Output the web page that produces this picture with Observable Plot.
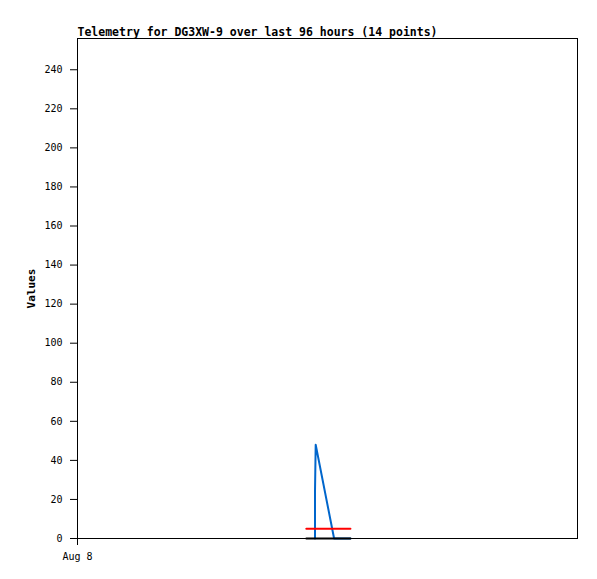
<!DOCTYPE html>
<html>
<head>
<meta charset="utf-8">
<script src="https://cdn.jsdelivr.net/npm/d3@7"></script>
<script src="https://cdn.jsdelivr.net/npm/@observablehq/plot@0.6"></script>
<style>
  html, body { margin: 0; padding: 0; background: #fff; }
</style>
</head>
<body>
<div id="chart"></div>
<script>
const titleText = "Telemetry for DG3XW-9 over last 96 hours (14 points)";
const yLabel = "Values";

// Blue series (time, value)
const blueTimes = ["2024-08-08T11:24Z", "2024-08-08T11:24Z", "2024-08-08T11:26Z", "2024-08-08T12:19Z", "2024-08-08T13:06Z"];
const blueValues = [0, 24, 48, 0, 0];
// Red series
const redTimes = ["2024-08-08T10:59Z", "2024-08-08T13:06Z"];
const redValues = [5, 5];
// Black series
const blackTimes = ["2024-08-08T10:59Z", "2024-08-08T13:06Z"];
const blackValues = [0, 0];

const xDomain = ["2024-08-08T00:00Z", "2024-08-09T00:00Z"];
const xTicks = ["2024-08-08T00:00Z"];
const yTicks = [0, 20, 40, 60, 80, 100, 120, 140, 160, 180, 200, 220, 240];

const toRows = (ts, vs) => ts.map((t, i) => ({t: new Date(t), v: vs[i]}));
const blue = toRows(blueTimes, blueValues);
const red = toRows(redTimes, redValues);
const black = toRows(blackTimes, blackValues);

const font = "'DejaVu Sans Mono', monospace";

const chart = Plot.plot({
  width: 597,
  height: 579,
  marginLeft: 77,
  marginRight: 20,
  marginTop: 38,
  marginBottom: 41,
  style: {fontFamily: font, fontSize: "10px", color: "black", background: "white"},
  x: {type: "utc", domain: xDomain.map(d => new Date(d))},
  y: {domain: [0, 256]},
  marks: [
    Plot.lineY(blue, {x: "t", y: "v", stroke: "#0066cc", strokeWidth: 2}),
    Plot.lineY(red, {x: "t", y: "v", stroke: "#ff0000", strokeWidth: 2}),
    Plot.lineY(black, {x: "t", y: "v", stroke: "#000000", strokeWidth: 2}),
    Plot.frame({stroke: "black", strokeWidth: 1}),
    Plot.axisY({ticks: yTicks, tickSize: 7, tickPadding: 8, label: null, fontSize: 10}),
    Plot.axisX({ticks: xTicks.map(d => new Date(d)), tickSize: 7, tickPadding: 7, label: null,
      tickFormat: d3.utcFormat("%b %-d"), fontSize: 10}),
    Plot.text([yLabel], {text: d => d, frameAnchor: "left", dx: -46, rotate: -90,
      textAnchor: "middle", fontWeight: "bold", fontSize: 11, fill: "black"}),
    Plot.text([titleText], {text: d => d, frameAnchor: "top-left", dy: -3, textAnchor: "start",
      lineAnchor: "bottom", fontWeight: "bold", fontSize: 11.5, fill: "black"})
  ]
});
document.getElementById("chart").appendChild(chart);
</script>
</body>
</html>
